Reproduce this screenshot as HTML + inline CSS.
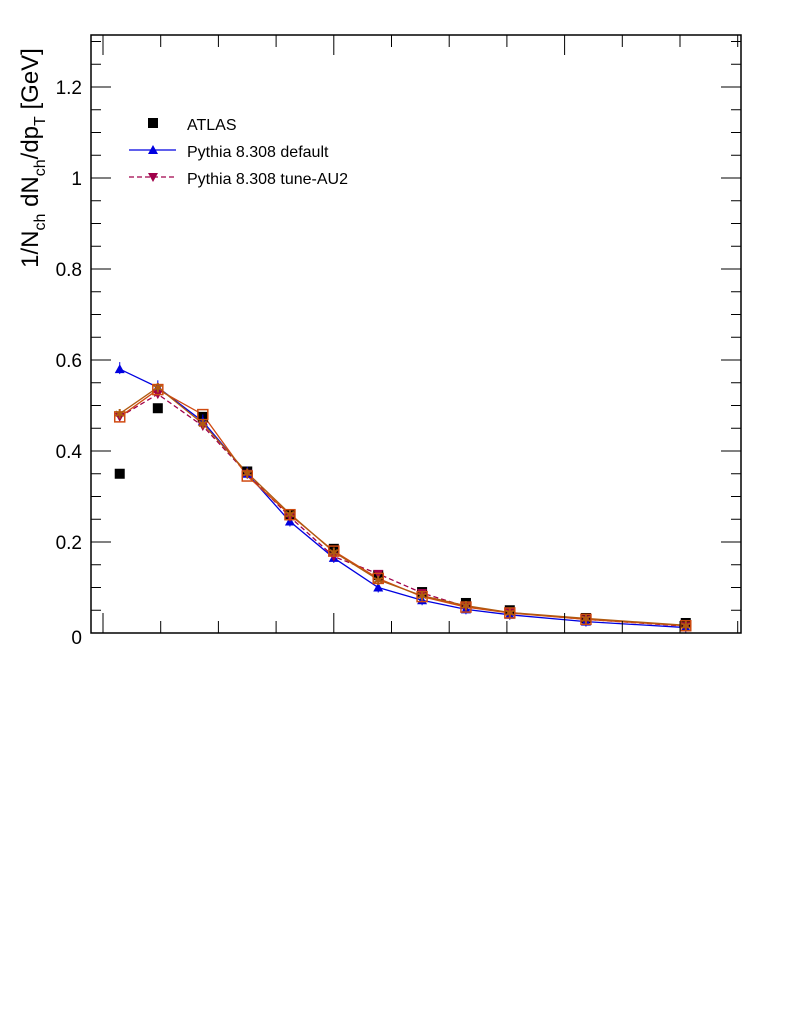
<!DOCTYPE html>
<html><head><meta charset="utf-8"><style>
body{margin:0;background:#fff;}
svg{font-family:"Liberation Sans",sans-serif;}
</style></head><body>
<svg id="chart" width="786" height="1024" xmlns="http://www.w3.org/2000/svg">
<g id="marks"></g>
</svg>
<script>
const xVals=[0.29,0.95,1.73,2.5,3.24,4.0,4.77,5.53,6.29,7.05,8.37,10.1];
const atlas=[0.35,0.494,0.475,0.355,0.26,0.185,0.127,0.09,0.066,0.05,0.033,0.022];
const pyDefault=[0.58,0.54,0.465,0.35,0.245,0.165,0.1,0.072,0.052,0.04,0.025,0.012];
const pyAU2=[0.475,0.525,0.455,0.35,0.255,0.168,0.13,0.088,0.058,0.045,0.03,0.015];
const pyOrange=[0.475,0.535,0.48,0.345,0.26,0.18,0.12,0.08,0.057,0.044,0.03,0.016];
const pyBrown=[0.482,0.54,0.46,0.352,0.262,0.178,0.117,0.082,0.06,0.045,0.032,0.017];
const yTickLabels=["0","0.2","0.4","0.6","0.8","1","1.2"];
const legendLabels=["ATLAS","Pythia 8.308 default","Pythia 8.308 tune-AU2"];

const L=91,R=741,T=35,B=633;
const X=v=>103+v*57.7;
const Y=v=>B-v*455;
const svg=document.getElementById('chart');
const NS="http://www.w3.org/2000/svg";
function mk(tag,attrs,parent,name){const e=document.createElementNS(NS,tag);for(const k in attrs)e.setAttribute(k,attrs[k]);


(parent||svg).appendChild(e);return e;}
mk('rect',{x:L,y:T,width:R-L,height:B-T,fill:'none',stroke:'#000','stroke-width':1.5},svg,'plot-frame');
for(let i=0;i*0.05<=1.31;i++){const v=i*0.05,y=Y(v),len=(i%4==0)?20:10;
mk('line',{x1:L,x2:L+len,y1:y,y2:y,stroke:'#000','stroke-width':1},svg,'y-tick');
mk('line',{x1:R,x2:R-len,y1:y,y2:y,stroke:'#000','stroke-width':1},svg,'y-tick-right');}
yTickLabels.forEach((t,i)=>{const e=mk('text',{x:82,y:Y(i*0.2)+7+(i==0?4:0),'text-anchor':'end','font-size':19},svg,'y-tick-label');e.textContent=t;});
for(let k=0;k<=11;k++){const x=X(k),len=(k%4==0)?20:12;
mk('line',{x1:x,x2:x,y1:B,y2:B-len,stroke:'#000','stroke-width':1},svg,'x-tick');
mk('line',{x1:x,x2:x,y1:T,y2:T+len,stroke:'#000','stroke-width':1},svg,'x-tick-top');}
const yt=mk('text',{transform:'translate(38,158) rotate(-90)','text-anchor':'middle','font-size':24},svg,'y-axis-title');
yt.innerHTML='1/N<tspan font-size="16" dy="7">ch</tspan><tspan dy="-7"> dN</tspan><tspan font-size="16" dy="7">ch</tspan><tspan dy="-7">/dp</tspan><tspan font-size="16" dy="7">T</tspan><tspan dy="-7"> [GeV]</tspan>';
const g=document.getElementById('marks');
function line(vals,color,dash,name){const pts=xVals.map((x,i)=>X(x)+','+Y(vals[i])).join(' ');
mk('polyline',{points:pts,fill:'none',stroke:color,'stroke-width':1.3,'stroke-dasharray':dash||'none'},g,name);}
function tri(x,y,s,up,color,name){const p=up?`${x},${y-s} ${x-s},${y+s*0.8} ${x+s},${y+s*0.8}`:`${x},${y+s} ${x-s},${y-s*0.8} ${x+s},${y-s*0.8}`;
mk('polygon',{points:p,fill:color},g,name);}
line(pyDefault,'#0000e0',null,'default-line');
line(pyAU2,'#a0004a','5,3','au2-line');
line(pyOrange,'#d04a10',null,'orange-line');
line(pyBrown,'#b05a10',null,'brown-line');
xVals.forEach((x,i)=>{
 mk('rect',{x:X(x)-5,y:Y(atlas[i])-5,width:10,height:10,fill:'#000'},g,'atlas-point');
 tri(X(x),Y(pyDefault[i]),5,true,'#0000e0','default-point');
 mk('line',{x1:X(x),x2:X(x),y1:Y(pyDefault[i])-7,y2:Y(pyDefault[i])+5,stroke:'#0000e0'},g,'default-errbar');
 tri(X(x),Y(pyAU2[i]),5,false,'#a0004a','au2-point');
 mk('rect',{x:X(x)-5,y:Y(pyOrange[i])-5,width:10,height:10,fill:'none',stroke:'#d04a10','stroke-width':1.5},g,'orange-point');
 mk('text',{x:X(x),y:Y(pyBrown[i])+5,'text-anchor':'middle','font-size':13,fill:'#b05a10'},g,'brown-point').textContent='✱';
});
mk('rect',{x:148,y:118,width:10,height:10,fill:'#000'},svg,'legend-atlas-marker');
mk('line',{x1:129,x2:176,y1:150,y2:150,stroke:'#0000e0','stroke-width':1.3},svg,'legend-default-line');
tri(153,150,5,true,'#0000e0','legend-default-marker');
mk('line',{x1:129,x2:176,y1:177,y2:177,stroke:'#a0004a','stroke-width':1.3,'stroke-dasharray':'5,3'},svg,'legend-au2-line');
tri(153,177,5,false,'#a0004a','legend-au2-marker');
legendLabels.forEach((t,i)=>{const e=mk('text',{x:187,y:130+i*27,'font-size':16},svg,'legend-label');e.textContent=t;});
</script>
</body></html>
